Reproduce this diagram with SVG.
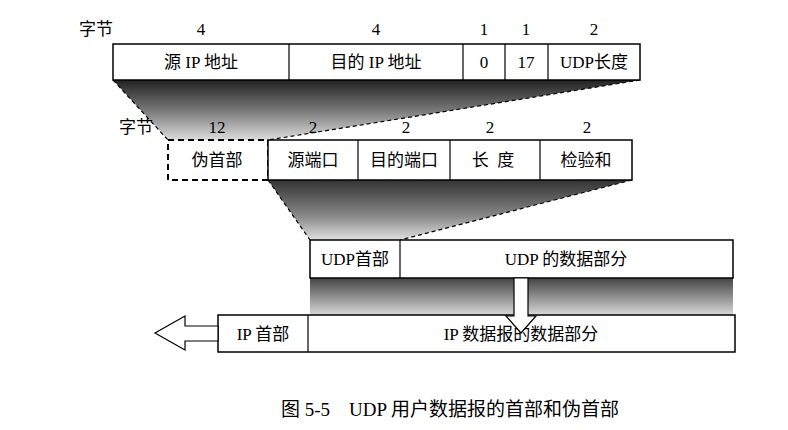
<svg xmlns="http://www.w3.org/2000/svg" width="788" height="430" viewBox="0 0 788 430">
<defs>
<linearGradient id="g1" x1="0" y1="0" x2="0" y2="1"><stop offset="0" stop-color="#222"/><stop offset="0.5" stop-color="#777"/><stop offset="1" stop-color="#ddd"/></linearGradient>
<linearGradient id="g2" x1="0" y1="0" x2="0" y2="1"><stop offset="0" stop-color="#333"/><stop offset="0.6" stop-color="#888"/><stop offset="1" stop-color="#e0e0e0"/></linearGradient>
<linearGradient id="g3" x1="0" y1="0" x2="0" y2="1"><stop offset="0" stop-color="#444"/><stop offset="1" stop-color="#d8d8d8"/></linearGradient>
</defs>
<style>
text{font-family:"Liberation Serif","Noto Sans CJK SC",serif;font-size:17px;fill:#000;text-anchor:middle}
.box{fill:#fff;stroke:#000;stroke-width:1.5}
.ln{stroke:#000;stroke-width:1.2}
.dash{fill:none;stroke:#000;stroke-width:1.2;stroke-dasharray:4 3}
.dbox{fill:#fff;stroke:#000;stroke-width:2;stroke-dasharray:6 4}
.cap{font-size:19px}
</style>
<g id="shadows">
<polygon points="113,80 640,80 268,140 168,140" fill="url(#g1)"/>
<polygon points="268,180 632,180 400,240 310,240" fill="url(#g2)"/>
<rect x="310" y="278" width="423" height="37" fill="url(#g3)"/>
</g>
<g id="connectors">
<line class="dash" x1="113" y1="80" x2="168" y2="140"/>
<line class="dash" x1="640" y1="80" x2="268" y2="140"/>
<line class="dash" x1="268" y1="180" x2="310" y2="240"/>
<line class="dash" x1="632" y1="180" x2="400" y2="240"/>
</g>
<g id="ip-pseudo-header">
<text x="96" y="35">字节</text>
<text x="201" y="35">4</text><text x="376" y="35">4</text><text x="484" y="35">1</text><text x="526" y="35">1</text><text x="594" y="35">2</text>
<rect class="box" x="113" y="44" width="527" height="36"/>
<line class="ln" x1="289" y1="44" x2="289" y2="80"/>
<line class="ln" x1="463" y1="44" x2="463" y2="80"/>
<line class="ln" x1="505" y1="44" x2="505" y2="80"/>
<line class="ln" x1="548" y1="44" x2="548" y2="80"/>
<text x="201" y="68">源 IP 地址</text>
<text x="376" y="68">目的 IP 地址</text>
<text x="484" y="68">0</text>
<text x="526" y="68">17</text>
<text x="594" y="68">UDP长度</text>
</g>
<g id="udp-header">
<text x="136" y="133">字节</text>
<text x="217" y="133">12</text><text x="313" y="133">2</text><text x="406" y="133">2</text><text x="490" y="133">2</text><text x="587" y="133">2</text>
<rect class="dbox" x="168" y="140" width="100" height="40"/>
<rect class="box" x="268" y="140" width="364" height="40"/>
<line class="ln" x1="358" y1="140" x2="358" y2="180"/>
<line class="ln" x1="450" y1="140" x2="450" y2="180"/>
<line class="ln" x1="540" y1="140" x2="540" y2="180"/>
<text x="217" y="166">伪首部</text>
<text x="313" y="166">源端口</text>
<text x="404" y="166">目的端口</text>
<text x="493" y="166" xml:space="preserve">长  度</text>
<text x="586" y="166">检验和</text>
</g>
<g id="udp-datagram">
<rect class="box" x="310" y="240" width="423" height="38"/>
<line class="ln" x1="400" y1="240" x2="400" y2="278"/>
<text x="355" y="265">UDP首部</text>
<text x="566" y="265">UDP 的数据部分</text>
</g>
<g id="ip-datagram">
<rect class="box" x="218" y="315" width="517" height="37"/>
<line class="ln" x1="308" y1="315" x2="308" y2="352"/>
<text x="263" y="340">IP 首部</text>
<text x="521" y="340">IP 数据报的数据部分</text>
</g>
<g id="arrows">
<polygon points="514,278 528,278 528,316 536,316 521,333 506,316 514,316" fill="#fff" stroke="#000" stroke-width="1.2"/>
<polygon points="218,326 185,326 185,316 155,333 185,350 185,341 218,341" fill="#fff" stroke="#000" stroke-width="1.2"/>
</g>
<text class="cap" x="450" y="416" xml:space="preserve">图 5-5    UDP 用户数据报的首部和伪首部</text>
</svg>
